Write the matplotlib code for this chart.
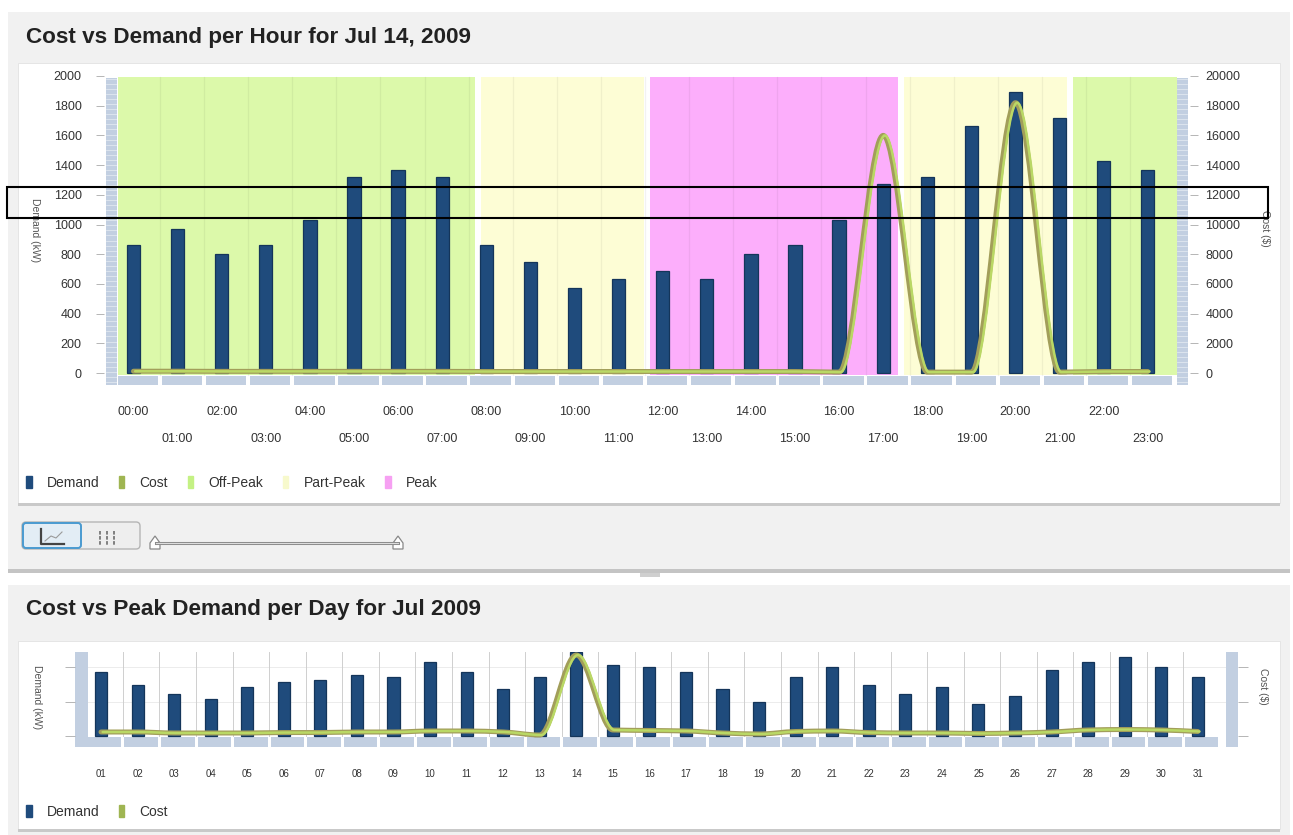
# Cost vs demand dashboard (hourly + daily)
import numpy as np
import matplotlib
matplotlib.use("Agg")
import matplotlib.pyplot as plt
import matplotlib.transforms as mtransforms
from matplotlib.patches import Rectangle, FancyBboxPatch, PathPatch, Patch, Polygon
from matplotlib.path import Path

plt.rcParams['font.family'] = ['Liberation Sans', 'DejaVu Sans']

# ---- data: hourly chart (Jul 14, 2009)
hours = list(range(24))
hour_labels = ["00:00", "01:00", "02:00", "03:00", "04:00", "05:00", "06:00", "07:00",
               "08:00", "09:00", "10:00", "11:00", "12:00", "13:00", "14:00", "15:00",
               "16:00", "17:00", "18:00", "19:00", "20:00", "21:00", "22:00", "23:00"]
hour_demand = [860, 970, 800, 860, 1030, 1320, 1370, 1320, 860, 750, 570, 630,
               690, 630, 800, 860, 1030, 1270, 1320, 1660, 1890, 1720, 1430, 1370]
hour_cost = [120, 120, 110, 110, 110, 110, 110, 110, 100, 100, 100, 100,
             100, 100, 100, 100, 60, 16000, 60, 60, 18200, 60, 100, 100]
# time-of-use periods, start/end hour
tou_bands = [("Off-Peak", 0, 8), ("Part-Peak", 8, 12), ("Peak", 12, 18),
             ("Part-Peak", 18, 22), ("Off-Peak", 22, 24)]

# ---- data: daily chart (Jul 2009)
days = list(range(1, 32))
day_labels = ["01", "02", "03", "04", "05", "06", "07", "08", "09", "10", "11", "12",
              "13", "14", "15", "16", "17", "18", "19", "20", "21", "22", "23", "24",
              "25", "26", "27", "28", "29", "30", "31"]
day_demand = [1860, 1480, 1220, 1070, 1420, 1570, 1620, 1770, 1710, 2150, 1860, 1360,
              1710, 2430, 2060, 2000, 1860, 1360, 990, 1710, 2000, 1480, 1220, 1420,
              930, 1160, 1910, 2150, 2290, 2000, 1710]
day_cost = [1160, 1160, 870, 870, 870, 1000, 1000, 1160, 1160, 1450, 1450, 1160,
            290, 23480, 1740, 1600, 1450, 870, 580, 1300, 1450, 1000, 870, 870,
            730, 870, 1160, 1740, 1880, 1740, 1300]

# colours
DEMAND = '#1f4b7c'
COST_LEG = '#9fb552'
BAND_COL = {"Off-Peak": '#dcf9aa', "Part-Peak": '#fdfdd5', "Peak": '#fcaefb'}
BAND_LEG = {"Off-Peak": '#c4f184', "Part-Peak": '#f7f9cc', "Peak": '#f6a0f2'}
STRIP = '#c2cfe1'
TXT = '#333333'

W, H = 1293, 835
fig = plt.figure(figsize=(W / 100, H / 100), dpi=100)
fig.patch.set_facecolor('white')

# pixel coords, y downward
pix = mtransforms.Affine2D().scale(1.0 / W, -1.0 / H).translate(0, 1) + fig.transFigure


def px_axes(x0, y0, x1, y1):
    ax = fig.add_axes([x0 / W, 1 - y1 / H, (x1 - x0) / W, (y1 - y0) / H])
    ax.set_facecolor('none')
    for s in ax.spines.values():
        s.set_visible(False)
    return ax


def box(x0, y0, x1, y1, **kw):
    r = Rectangle((x0, y0), x1 - x0, y1 - y0, transform=pix, **kw)
    fig.add_artist(r)
    return r


def mono_path(xs, ys):
    # smooth curve through the points, flat at local extremes
    xs = np.asarray(xs, float)
    ys = np.asarray(ys, float)
    d = np.diff(ys) / np.diff(xs)
    m = np.zeros_like(ys)
    m[0], m[-1] = d[0], d[-1]
    for k in range(1, len(ys) - 1):
        if d[k - 1] * d[k] > 0:
            m[k] = 2.0 / (1.0 / d[k - 1] + 1.0 / d[k])
    verts = [(xs[0], ys[0])]
    codes = [Path.MOVETO]
    for k in range(len(xs) - 1):
        h = xs[k + 1] - xs[k]
        verts += [(xs[k] + h / 3, ys[k] + m[k] * h / 3),
                  (xs[k + 1] - h / 3, ys[k + 1] - m[k + 1] * h / 3),
                  (xs[k + 1], ys[k + 1])]
        codes += [Path.CURVE4] * 3
    return Path(verts, codes)


def draw_cost(ax, xs, ys):
    p = mono_path(xs, ys)
    ax.add_patch(PathPatch(p, fill=False, edgecolor='#a29e5a', lw=3.6, zorder=4,
                           capstyle='round', joinstyle='round'))
    off = mtransforms.offset_copy(ax.transData, fig=fig, x=1.2, y=0, units='points')
    ax.add_patch(PathPatch(p, fill=False, edgecolor='#bad865', lw=1.8, zorder=5,
                           transform=off, capstyle='round'))


def legend_row(handles, labels, ypix):
    fig.legend(handles, labels, loc='center left', bbox_to_anchor=(26 / W, 1 - ypix / H),
               ncol=len(labels), frameon=False, fontsize=10, labelcolor=TXT,
               handlelength=0.4, handleheight=0.9, handletextpad=1.1, columnspacing=1.4,
               borderpad=0, borderaxespad=0)


# ---- panels
box(8, 12, 1290, 572, facecolor='#f1f1f1', edgecolor='none', zorder=-5)
box(8, 569, 1290, 573, facecolor='#c4c4c4', edgecolor='none', zorder=-4)
box(18, 63, 1280, 503, facecolor='white', edgecolor='#e2e2e2', lw=0.6, zorder=-3)
box(18, 503, 1280, 506, facecolor='#c9c9c9', edgecolor='none', zorder=-3)
box(8, 585, 1290, 835, facecolor='#f1f1f1', edgecolor='none', zorder=-5)
box(18, 641, 1280, 829, facecolor='white', edgecolor='#e2e2e2', lw=0.6, zorder=-3)
box(18, 829, 1280, 832, facecolor='#c9c9c9', edgecolor='none', zorder=-3)
box(640, 573, 660, 577, facecolor='#cfcfcf', edgecolor='none', zorder=-2)

fig.text(26 / W, 1 - 37 / H, "Cost vs Demand per Hour for Jul 14, 2009",
         fontsize=16.2, fontweight='bold', color='#222222', va='center', ha='left')
fig.text(26 / W, 1 - 610 / H, "Cost vs Peak Demand per Day for Jul 2009",
         fontsize=16.2, fontweight='bold', color='#222222', va='center', ha='left')

# ---- hourly chart
step = 44.1
ax = px_axes(104, 76, 1190, 386)
ax.set_xlim((104 - 133.5) / step, (1190 - 133.5) / step)
ax.set_ylim(-87.5, 2000)


def band_x(t):
    # band shading is laid out on a slightly compressed time scale
    return 0.156 + 0.958 * t


for name, s, e in tou_bands:
    x0 = -0.35 if s == 0 else band_x(s) + 0.07
    x1 = 23.66 if e == 24 else band_x(e) - 0.07
    ax.add_patch(Rectangle((x0, -15), x1 - x0, 2005, facecolor=BAND_COL[name],
                           edgecolor='none', zorder=0))
for h in hours[:-1]:
    ax.plot([h + 0.6, h + 0.6], [-15, 1990], color='black', alpha=0.05, lw=0.9, zorder=1)

# axis strips
ax.add_patch(Rectangle((-0.624, -81), 0.25, 2067, facecolor=STRIP, edgecolor='none', zorder=1))
ax.add_patch(Rectangle((23.66, -81), 0.25, 2067, facecolor=STRIP, edgecolor='none', zorder=1))
for yy in np.arange(-60, 1990, 34):
    ax.plot([-0.62, -0.38], [yy, yy], color='white', lw=0.5, alpha=0.6, zorder=1)
    ax.plot([23.66, 23.9], [yy, yy], color='white', lw=0.5, alpha=0.6, zorder=1)
for h in hours:
    ax.add_patch(Rectangle((h - 0.36, -81), 0.92, 61, facecolor=STRIP, edgecolor='none', zorder=1))

ax.bar(hours, hour_demand, width=0.3, color=DEMAND, edgecolor='#14355a', lw=0.9, zorder=3)

ax.set_yticks(range(0, 2001, 200))
ax.tick_params(axis='y', direction='out', length=6, width=0.6, color='#aaaaaa',
               pad=10, labelsize=9, labelcolor=TXT)
ax.set_xticks(hours[0::2], hour_labels[0::2])
ax.set_xticks(hours[1::2], hour_labels[1::2], minor=True)
ax.tick_params(axis='x', which='major', length=0, pad=14.5, labelsize=9, labelcolor=TXT)
ax.tick_params(axis='x', which='minor', length=0, pad=34, labelsize=9, labelcolor=TXT)

ax2 = ax.twinx()
ax2.set_facecolor('none')
for s in ax2.spines.values():
    s.set_visible(False)
ax2.set_ylim(-875, 20000)
ax2.set_yticks(range(0, 20001, 2000))
ax2.tick_params(axis='y', direction='out', length=6, width=0.6, color='#aaaaaa',
                pad=5, labelsize=9, labelcolor=TXT)
draw_cost(ax2, hours, hour_cost)

fig.text(35 / W, 1 - 230 / H, "Demand (kW)", rotation=270, fontsize=7.5, color='#555555',
         ha='center', va='center')
fig.text(1265 / W, 1 - 228 / H, "Cost ($)", rotation=270, fontsize=7.5, color='#555555',
         ha='center', va='center')

handles = [Patch(color=DEMAND), Patch(color=COST_LEG)]
labels = ["Demand", "Cost"]
for name in ["Off-Peak", "Part-Peak", "Peak"]:
    handles.append(Patch(color=BAND_LEG[name]))
    labels.append(name)
legend_row(handles, labels, 483)

# ---- view buttons and slider
fig.add_artist(FancyBboxPatch((22, 522), 118, 27, boxstyle='round,pad=0,rounding_size=4',
                              transform=pix, facecolor='#eeeeee', edgecolor='#b5b5b5', lw=1))
fig.add_artist(FancyBboxPatch((23, 523), 58, 25, boxstyle='round,pad=0,rounding_size=3',
                              transform=pix, facecolor='#e3edf5', edgecolor='#4a9ad0', lw=1.4))
fig.add_artist(plt.Line2D([41, 41, 64], [529, 544, 544], transform=pix, color='#444444', lw=1.6))
fig.add_artist(plt.Line2D([45, 51, 56, 62], [541, 536, 538, 532], transform=pix,
                          color='#9a9a9a', lw=0.8))
for xx in [100, 107, 114]:
    fig.add_artist(plt.Line2D([xx, xx], [531, 545], transform=pix, color='#777777', lw=1.3,
                              dashes=(2, 0.8)))
fig.add_artist(plt.Line2D([156, 398], [543, 543], transform=pix, color='#8a8a8a', lw=2.2))
fig.add_artist(plt.Line2D([156, 398], [543, 543], transform=pix, color='#dddddd', lw=0.8))
for hx in [155, 398]:
    fig.add_artist(Polygon([(hx - 5, 549), (hx + 5, 549), (hx + 5, 543), (hx, 536), (hx - 5, 543)],
                           closed=True, transform=pix, facecolor='white', edgecolor='#888888', lw=0.9))

# ---- daily chart
dstep = 36.56
bx = px_axes(75, 652, 1238, 748)
bx.set_xlim(1 + (75 - 101) / dstep, 1 + (1238 - 101) / dstep)
bx.set_ylim(-348, 2435)
for d in days[:-1]:
    bx.plot([d + 0.6, d + 0.6], [0, 2435], color='#cfcfcf', lw=0.7, zorder=1)
for yy in [1000, 2000]:
    bx.plot([0.64, 31.77], [yy, yy], color='#ececec', lw=0.7, zorder=0)
bx.add_patch(Rectangle((1 + (75 - 101) / dstep, -319), 0.36, 2754, facecolor=STRIP,
                       edgecolor='none', zorder=1))
bx.add_patch(Rectangle((31.77, -319), 0.33, 2754, facecolor=STRIP, edgecolor='none', zorder=1))
for d in days:
    bx.add_patch(Rectangle((d - 0.36, -319), 0.92, 290, facecolor=STRIP, edgecolor='none', zorder=1))
bx.bar(days, day_demand, width=0.33, color=DEMAND, edgecolor='#14355a', lw=0.9, zorder=3)
bx.set_yticks([0, 1000, 2000], [])
bx.tick_params(axis='y', direction='out', length=7, width=0.6, color='#aaaaaa')
bx.set_xticks(days, day_labels)
bx.tick_params(axis='x', length=0, pad=15, labelsize=7, labelcolor=TXT)

bx2 = bx.twinx()
bx2.set_facecolor('none')
for s in bx2.spines.values():
    s.set_visible(False)
bx2.set_ylim(-3480, 24350)
bx2.set_yticks([0, 10000, 20000], [])
bx2.tick_params(axis='y', direction='out', length=7, width=0.6, color='#aaaaaa')
draw_cost(bx2, days, day_cost)

fig.text(37 / W, 1 - 697 / H, "Demand (kW)", rotation=270, fontsize=7.5, color='#555555',
         ha='center', va='center')
fig.text(1263 / W, 1 - 686 / H, "Cost ($)", rotation=270, fontsize=7.5, color='#555555',
         ha='center', va='center')
legend_row([Patch(color=DEMAND), Patch(color=COST_LEG)], ["Demand", "Cost"], 812)

# highlight box drawn over the hourly chart
box(7, 187, 1268, 218, fill=False, edgecolor='black', lw=1.5, zorder=20)

fig.savefig('out.png', dpi=100)
